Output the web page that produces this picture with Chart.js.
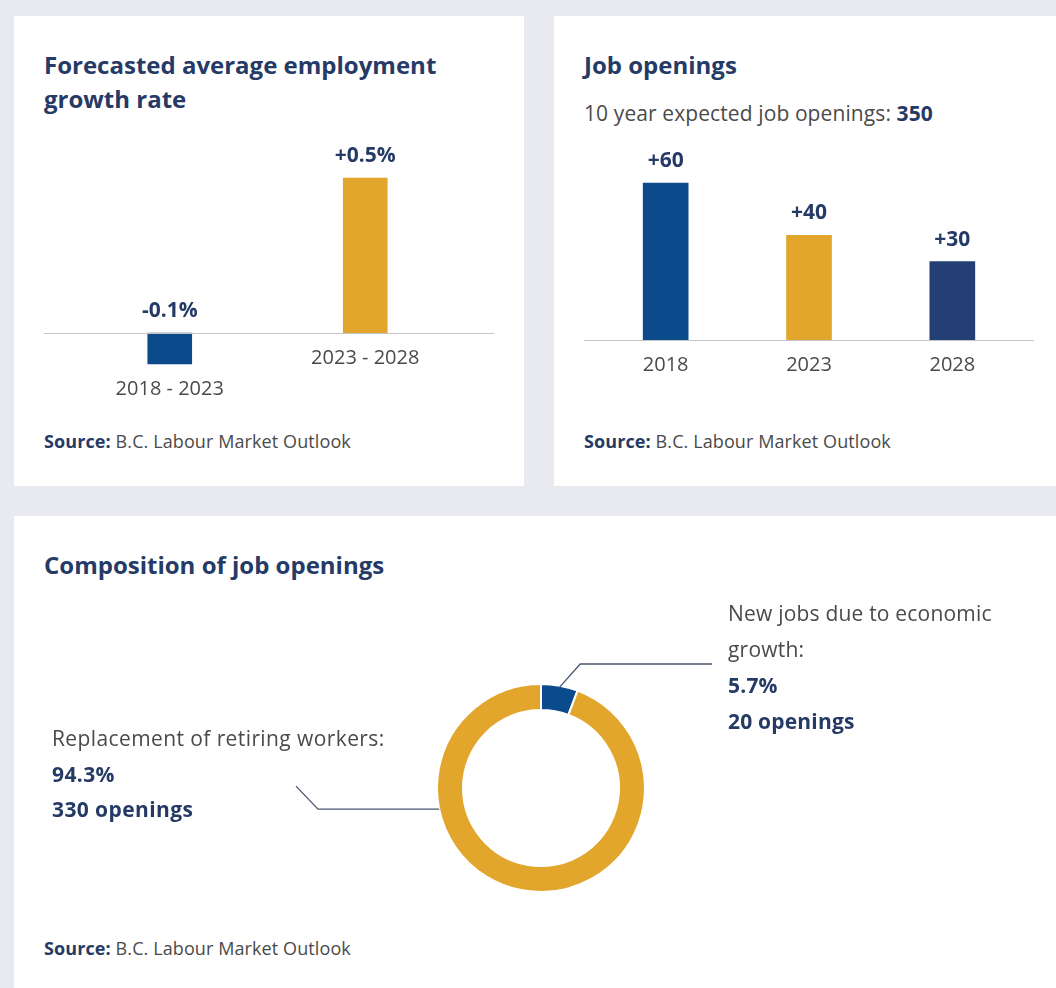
<!DOCTYPE html>
<html>
<head>
<meta charset="utf-8">
<script src="https://cdn.jsdelivr.net/npm/chart.js@4.4.1/dist/chart.umd.min.js"></script>
<style>
  body { margin: 0; width: 1056px; height: 988px; background: #e8eaef; font-family: "Open Sans", sans-serif; position: relative; overflow: hidden; }
  .panel { position: absolute; background: #fff; }
  .title { position: absolute; left: 30px; top: 32px; font-size: 24px; line-height: 34px; font-weight: 700; color: #263a66; }
  .sub { position: absolute; left: 30px; top: 82px; font-size: 21px; line-height: 30px; color: #4a4a4a; letter-spacing: 0.1px; }
  .sub b { color: #263a66; }
  .source { position: absolute; left: 30px; font-size: 18px; line-height: 24px; color: #4a4a4a; letter-spacing: 0.1px; }
  .source b { color: #263a66; }
  .note { position: absolute; font-size: 21px; line-height: 36px; color: #4a4a4a; letter-spacing: 0.2px; }
  .note b { color: #263a66; }
  canvas { position: absolute; }
</style>
</head>
<body>

<div class="panel" style="left:14px; top:16px; width:510px; height:470px;">
  <div class="title">Forecasted average employment<br>growth rate</div>
  <div style="position:absolute; left:0; top:114px; width:510px; height:290px;"><canvas id="growthChart"></canvas></div>
  <div class="source" style="top:413px;"><b>Source:</b> B.C. Labour Market Outlook</div>
</div>

<div class="panel" style="left:554px; top:16px; width:502px; height:470px;">
  <div class="title">Job openings</div>
  <div class="sub">10 year expected job openings: <b>350</b></div>
  <div style="position:absolute; left:0; top:114px; width:502px; height:290px;"><canvas id="openingsChart"></canvas></div>
  <div class="source" style="top:413px;"><b>Source:</b> B.C. Labour Market Outlook</div>
</div>

<div class="panel" style="left:14px; top:516px; width:1042px; height:472px;">
  <div class="title">Composition of job openings</div>
  <div style="position:absolute; left:0; top:74px; width:1042px; height:330px;"><canvas id="compChart"></canvas></div>
  <div class="note" style="left:714px; top:79px;">New jobs due to economic<br>growth:<br><b>5.7%</b><br><b>20 openings</b></div>
  <div class="note" style="left:38px; top:205px; line-height:35.5px; letter-spacing:0.4px;">Replacement of retiring workers:<br><b>94.3%</b><br><b>330 openings</b></div>
  <div class="source" style="top:420px;"><b>Source:</b> B.C. Labour Market Outlook</div>
</div>

<script>
// forecasted average employment growth rate (%)
let growthLabels = ["2018 - 2023", "2023 - 2028"];
let growthValues = [-0.1, 0.5];

// job openings by year
let openingYears = ["2018", "2023", "2028"];
let openingValues = [60, 40, 30];

// composition of job openings
let compLabels = ["New jobs due to economic growth", "Replacement of retiring workers"];
let compValues = [20, 330];

let blue = "#0b4a8b";
let gold = "#e3a62c";
let navy = "#243f73";
let titleColor = "#263a66";
let textColor = "#4a4a4a";

Chart.defaults.font.family = "'Open Sans', sans-serif";
Chart.defaults.animation = false;

// draws zero line, value labels and category labels for the bar panels
function barLabels(fmt, lineLeft, lineRight) {
    return {
        id: "barLabels",
        afterDatasetsDraw(chart) {
            let ctx = chart.ctx;
            let y = chart.scales.y;
            let zero = y.getPixelForValue(0);
            ctx.save();
            ctx.strokeStyle = "#c4c4c4";
            ctx.lineWidth = 1;
            ctx.beginPath();
            ctx.moveTo(lineLeft, zero + 0.5);
            ctx.lineTo(lineRight, zero + 0.5);
            ctx.stroke();

            let data = chart.data.datasets[0].data;
            chart.getDatasetMeta(0).data.forEach((bar, i) => {
                let v = data[i];
                let top = y.getPixelForValue(Math.max(v, 0));
                let bottom = y.getPixelForValue(Math.min(v, 0));
                ctx.textAlign = "center";
                ctx.textBaseline = "middle";
                ctx.fillStyle = titleColor;
                ctx.font = "700 21px 'Open Sans'";
                ctx.fillText(fmt(v), bar.x, top - 22);
                ctx.fillStyle = textColor;
                ctx.font = "400 20px 'Open Sans'";
                ctx.fillText(chart.data.labels[i], bar.x, bottom + 25);
            });
            ctx.restore();
        }
    };
}

function barOptions(min, max, padding) {
    return {
        responsive: true,
        maintainAspectRatio: false,
        layout: { padding },
        plugins: { legend: { display: false }, tooltip: { enabled: false } },
        scales: {
            x: { display: false },
            y: { display: false, min, max }
        }
    };
}

new Chart(document.getElementById("growthChart"), {
    type: "bar",
    data: {
        labels: growthLabels,
        datasets: [{
            data: growthValues,
            backgroundColor: [blue, gold],
            barThickness: 44
        }]
    },
    options: barOptions(-0.2, 0.6, { left: 58, right: 61, top: 17, bottom: 25 }),
    plugins: [barLabels(v => (v > 0 ? "+" : "") + v.toFixed(1) + "%", 30, 480)]
});

new Chart(document.getElementById("openingsChart"), {
    type: "bar",
    data: {
        labels: openingYears,
        datasets: [{
            data: openingValues,
            backgroundColor: [blue, gold, navy],
            barThickness: 45
        }]
    },
    options: barOptions(0, 70, { left: 40, right: 32, top: 27, bottom: 80 }),
    plugins: [barLabels(v => "+" + v, 30, 480)]
});

// leader lines from the ring to the callout texts
let leaderLines = {
    id: "leaderLines",
    afterDatasetsDraw(chart) {
        let ctx = chart.ctx;
        let arc = chart.getDatasetMeta(0).data[0];
        let cx = arc.x, cy = arc.y, r = arc.outerRadius;
        let mid = (arc.startAngle + arc.endAngle) / 2;
        let ax = cx + Math.cos(mid) * (r - 2), ay = cy + Math.sin(mid) * (r - 2);
        let left = Math.PI * 0.935;
        let bx = cx + Math.cos(left) * r, by = cy + Math.sin(left) * r;
        ctx.save();
        ctx.strokeStyle = "#4a5573";
        ctx.lineWidth = 1.3;
        ctx.beginPath();
        ctx.moveTo(ax, ay);
        ctx.lineTo(ax + 21, cy - 124);
        ctx.lineTo(cx + 171, cy - 124);
        ctx.stroke();
        ctx.beginPath();
        ctx.moveTo(bx, by);
        ctx.lineTo(cx - 223, by);
        ctx.lineTo(cx - 245, by - 23);
        ctx.stroke();
        ctx.restore();
    }
};

new Chart(document.getElementById("compChart"), {
    type: "doughnut",
    data: {
        labels: compLabels,
        datasets: [{
            data: compValues,
            backgroundColor: [blue, gold],
            borderColor: "#ffffff",
            borderWidth: 2,
            radius: 104,
            cutout: "75%"
        }]
    },
    options: {
        responsive: true,
        maintainAspectRatio: false,
        layout: { padding: { left: 12, right: 0, top: 66, bottom: 0 } },
        plugins: { legend: { display: false }, tooltip: { enabled: false } }
    },
    plugins: [leaderLines]
});
</script>
</body>
</html>
